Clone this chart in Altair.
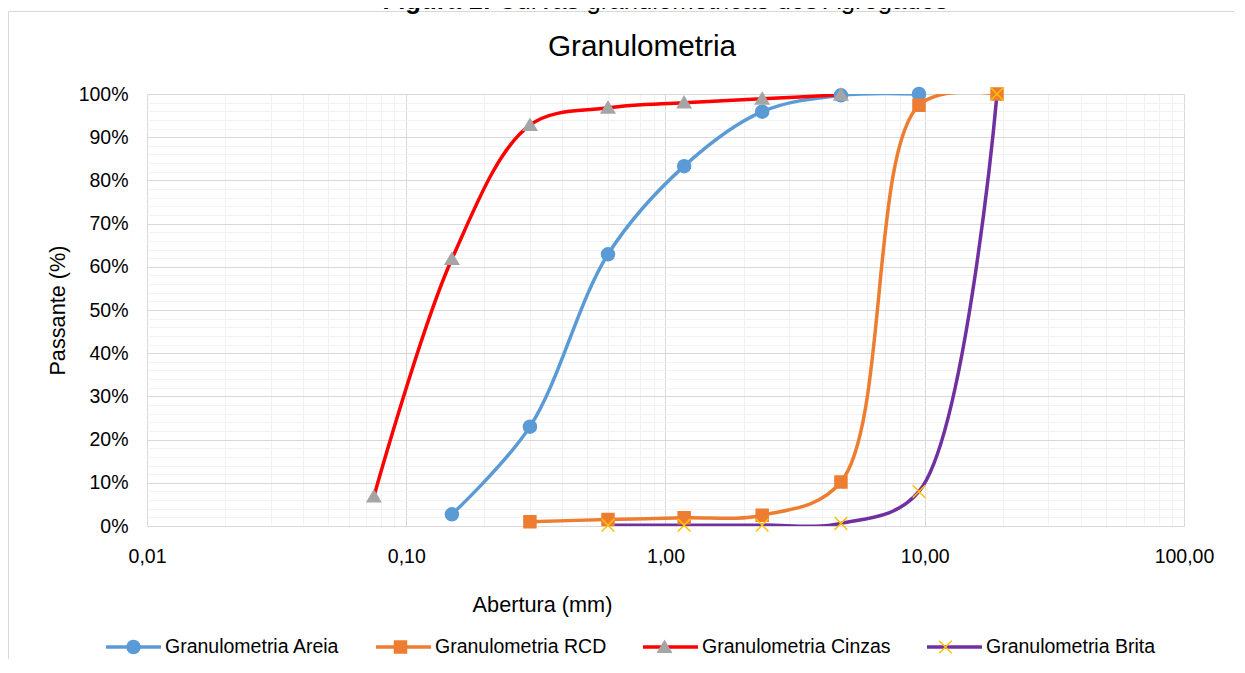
import altair as alt
import pandas as pd

# ---------------- data ----------------
series_names = ["Granulometria Areia", "Granulometria RCD",
                "Granulometria Cinzas", "Granulometria Brita"]

areia_x = [0.15, 0.3, 0.6, 1.18, 2.36, 4.75, 9.5]
areia_y = [2.7, 23.0, 62.9, 83.3, 95.9, 99.7, 100.0]

rcd_x = [0.3, 0.6, 1.18, 2.36, 4.75, 9.5, 19.0]
rcd_y = [1.0, 1.5, 1.9, 2.5, 10.2, 97.4, 100.0]

cinzas_x = [0.075, 0.15, 0.3, 0.6, 1.18, 2.36, 4.75]
cinzas_y = [6.8, 61.8, 92.8, 96.8, 98.0, 98.9, 99.8]

brita_x = [0.6, 1.18, 2.36, 4.75, 9.5, 19.0]
brita_y = [0.2, 0.2, 0.2, 0.6, 8.0, 100.0]

line_colors = ["#5B9BD5", "#ED7D31", "#FF0000", "#7030A0"]
marker_colors = ["#5B9BD5", "#ED7D31", "#A5A5A5", "#FFC000"]

fig_title_bold = "Figura 1:"
fig_title_rest = "Curvas granulométricas dos Agregados"
chart_title = "Granulometria"
x_title = "Abertura (mm)"
y_title = "Passante (%)"

# ---------------- table ----------------
rows = []
for name, xs, ys in zip(series_names,
                        [areia_x, rcd_x, cinzas_x, brita_x],
                        [areia_y, rcd_y, cinzas_y, brita_y]):
    for a, p in zip(xs, ys):
        rows.append({"serie": name, "linha": name, "abertura": a, "passante": p})
df = pd.DataFrame(rows)

# gridline positions (log decades with minors, 2% steps)
x_grid = sorted(set([round(m * 10.0 ** e, 6) for e in range(-2, 2) for m in range(1, 10)] + [100.0]))
y_grid = list(range(0, 101, 2))

FONT = "Liberation Sans"
MAJOR = "#d9d9d9"
MINOR = "#f2f2f2"

x_major_test = "abs(log(datum.value)/LN10 - round(log(datum.value)/LN10)) < 0.000001"
y_major_test = "datum.value % 10 == 0"

x_axis = alt.Axis(
    values=x_grid, grid=True,
    gridColor={"condition": {"test": x_major_test, "value": MAJOR}, "value": MINOR},
    gridWidth=1, ticks=False, domain=False,
    labelExpr=f"({x_major_test}) ? replace(format(datum.value, '.2f'), '.', ',') : ''",
    labelFont=FONT, labelFontSize=19.5, labelColor="#000000", labelPadding=21,
    labelFlush=False, labelOverlap=False,
    title=x_title, titleFont=FONT, titleFontSize=21.7, titleFontWeight="normal",
    titleColor="#000000", titleX=395, titleY=78, titleBaseline="middle",
)
y_axis = alt.Axis(
    values=y_grid, grid=True,
    gridColor={"condition": {"test": y_major_test, "value": MAJOR}, "value": MINOR},
    gridWidth=1, ticks=False, domain=False,
    labelExpr=f"({y_major_test}) ? datum.value + '%' : ''",
    labelFont=FONT, labelFontSize=19.5, labelColor="#000000", labelPadding=19,
    labelFlush=False, labelOverlap=False,
    title=y_title, titleFont=FONT, titleFontSize=21.7, titleFontWeight="normal",
    titleColor="#000000", titleX=-90, titleY=216, titleAngle=270, titleBaseline="middle",
)
x_scale = alt.Scale(type="log", domain=[0.01, 100], nice=False)
y_scale = alt.Scale(domain=[0, 100], nice=False, zero=False)

x_enc = alt.X("abertura:Q", scale=x_scale, axis=x_axis)
y_enc = alt.Y("passante:Q", scale=y_scale, axis=y_axis)

# marker shapes (unit paths, scaled by sqrt(size)/2); extra moveTo keeps equal bounds
ext = "M-1,0M1,0"
R = 0.228
S = 0.21
X = 0.22
shape_paths = [
    f"M{R},0A{R},{R},0,1,1,{-R},0A{R},{R},0,1,1,{R},0Z" + ext,
    f"M{-S},{-S}H{S}V{S}H{-S}Z" + ext,
    "M0,-0.215L0.235,0.18L-0.235,0.18Z" + ext,
    f"M{-X},{-X}L{X},{X}M{-X},{X}L{X},{-X}" + ext,
]

LEG_X = -43
LEG_Y = 523.5
COL_PAD = 29

legend_lines = alt.Legend(
    title=None, orient="none", legendX=LEG_X, legendY=LEG_Y,
    direction="horizontal", columns=4, columnPadding=COL_PAD, padding=0,
    symbolType="stroke", symbolSize=3025, symbolStrokeWidth=3.5,
    labelFont=FONT, labelFontSize=19.5, labelColor="#000000",
    labelOffset=2, labelLimit=400,
)
legend_marks = alt.Legend(
    title=None, orient="none", legendX=LEG_X, legendY=LEG_Y,
    direction="horizontal", columns=4, columnPadding=COL_PAD, padding=0,
    symbolSize=3249, symbolStrokeWidth=1.5, symbolOpacity=1,
    labelFont=FONT, labelFontSize=19.5, labelOpacity=0,
    labelOffset=2, labelLimit=400,
)

lines = alt.Chart(df).mark_line(
    interpolate="catmull-rom", strokeWidth=3.5, clip=True
).encode(
    x=x_enc, y=y_enc,
    color=alt.Color("linha:N", sort=series_names, scale=alt.Scale(range=line_colors),
                    legend=legend_lines),
)

points = alt.Chart(df).mark_point(
    size=3249, strokeWidth=1.5, opacity=1, filled=True
).encode(
    x=x_enc, y=y_enc,
    shape=alt.Shape("serie:N", scale=alt.Scale(domain=series_names, range=shape_paths),
                    legend=legend_marks),
    fill=alt.Fill("serie:N", scale=alt.Scale(domain=series_names, range=marker_colors),
                  legend=legend_marks),
    stroke=alt.Stroke("serie:N", scale=alt.Scale(domain=series_names, range=marker_colors),
                      legend=legend_marks),
)

one = alt.Data(values=[{}])

frame = alt.Chart(one).mark_rect(
    fill="transparent", stroke=MAJOR, strokeWidth=1
).encode(
    x=alt.value(-138.5), x2=alt.value(1500), y=alt.value(-82.5), y2=alt.value(900)
)

title_a = alt.Chart(one).mark_text(
    text=fig_title_bold, font=FONT, fontSize=25.7, fontWeight="bold",
    align="right", baseline="alphabetic", color="#000000"
).encode(x=alt.value(344), y=alt.value(-85))

title_b = alt.Chart(one).mark_text(
    text=fig_title_rest, font=FONT, fontSize=25.7,
    align="left", baseline="alphabetic", color="#000000"
).encode(x=alt.value(351), y=alt.value(-85))

subtitle = alt.Chart(one).mark_text(
    text=chart_title, font=FONT, fontSize=29.7,
    align="center", baseline="middle", color="#000000"
).encode(x=alt.value(495), y=alt.value(-47))

chart = alt.layer(frame, title_a, title_b, subtitle, lines, points).properties(
    width=1037, height=432,
    padding={"left": 139, "top": 86, "right": 50, "bottom": 133},
    autosize=alt.AutoSizeParams(type="none"),
).configure(font=FONT).configure_view(strokeWidth=0)

chart.save("out.html", embed_options={"renderer": "svg", "actions": False})
